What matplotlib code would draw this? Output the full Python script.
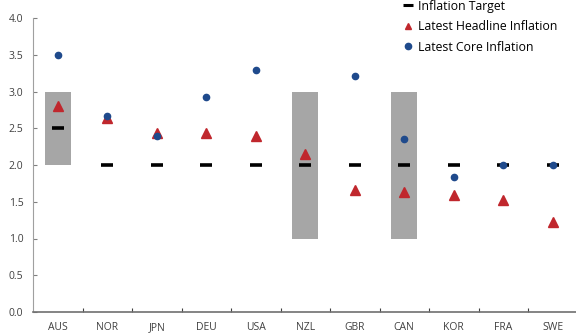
import matplotlib
matplotlib.use("Agg")
import matplotlib.pyplot as plt
import numpy as np
from matplotlib.lines import Line2D

plt.rcParams['font.family'] = ['Open Sans', 'DejaVu Sans']

countries = ["AUS", "NOR", "JPN", "DEU", "USA", "NZL", "GBR", "CAN", "KOR", "FRA", "SWE"]
target = [2.5, 2.0, 2.0, 2.0, 2.0, 2.0, 2.0, 2.0, 2.0, 2.0, 2.0]
band_low = [2.0, None, None, None, None, 1.0, None, 1.0, None, None, None]
band_high = [3.0, None, None, None, None, 3.0, None, 3.0, None, None, None]
headline = [2.80, 2.64, 2.44, 2.43, 2.40, 2.15, 1.66, 1.63, 1.59, 1.52, 1.22]
core = [3.50, 2.67, 2.40, 2.92, 3.29, None, 3.21, 2.35, 1.83, 2.00, 2.00]

fig = plt.figure(figsize=(5.76, 3.35), dpi=100)
ax = fig.add_axes([33/576, 1-312/335, 544.5/576, 294/335])

x = np.arange(len(countries))
for i, (lo, hi) in enumerate(zip(band_low, band_high)):
    if lo is not None:
        ax.bar(i, hi - lo, bottom=lo, width=0.53, color="#A6A6A6", zorder=1)

ax.plot(x, target, linestyle="none", marker="_", markersize=8.5, mew=2.6, color="black", zorder=2)
ax.plot(x, headline, linestyle="none", marker="^", markersize=7.8, color="#C0272D", zorder=3)
cx = [i for i, v in enumerate(core) if v is not None]
cy = [v for v in core if v is not None]
ax.plot(cx, cy, linestyle="none", marker="o", markersize=4.5, color="#1F4A8C", zorder=4)

ax.set_xlim(-0.5, len(countries) - 0.5)
ax.set_ylim(0, 4.0)
ax.set_yticks(np.arange(0, 4.01, 0.5))
ax.set_yticklabels([f"{v:.1f}" for v in np.arange(0, 4.01, 0.5)])
ax.set_xticks(x)
ax.set_xticklabels(countries)
ax.set_xticks(np.arange(0.5, len(countries) - 0.5, 1), minor=True)
ax.tick_params(axis="x", which="major", length=0, labelsize=7.5, labelcolor="#404040", pad=7)
ax.tick_params(axis="x", which="minor", direction="in", length=3, color="#404040", width=0.8)
ax.tick_params(axis="y", direction="in", length=3, color="#808080", labelsize=7.5, labelcolor="#404040", pad=7)
for s in ["top", "right"]:
    ax.spines[s].set_visible(False)
ax.spines["left"].set_color("#A0A0A0")
ax.spines["left"].set_linewidth(0.8)
ax.spines["bottom"].set_color("#707070")
ax.spines["bottom"].set_linewidth(1.2)

handles = [
    Line2D([], [], linestyle="none", marker="_", markersize=7, mew=2.2, color="black"),
    Line2D([], [], linestyle="none", marker="^", markersize=5, color="#C0272D"),
    Line2D([], [], linestyle="none", marker="o", markersize=4.5, color="#1F4A8C"),
]
labels = ["Inflation Target", "Latest Headline Inflation", "Latest Core Inflation"]
fig.legend(handles, labels, loc="upper left", bbox_to_anchor=(395/576, 1 + 9/335),
           frameon=False, fontsize=8.8, handlelength=0.8, handletextpad=0.4,
           labelspacing=0.62, borderpad=0.2)

fig.savefig("out.png", dpi=100)
